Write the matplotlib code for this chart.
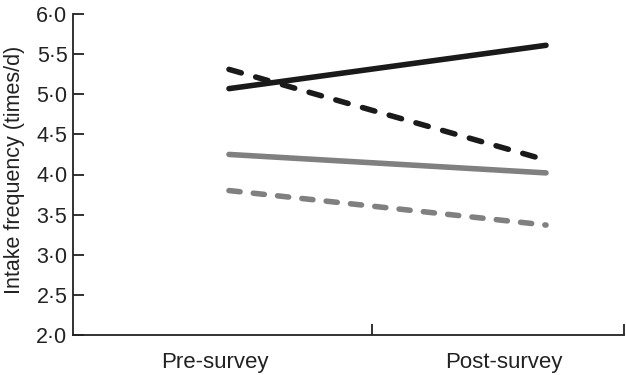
import matplotlib
matplotlib.use("Agg")
import matplotlib.pyplot as plt

plt.rcParams["font.family"] = ["Liberation Sans", "DejaVu Sans"]

# two survey points, four series
stages = ["Pre-survey", "Post-survey"]
black_solid = [5.07, 5.61]
black_dashed = [5.31, 4.18]
grey_solid = [4.25, 4.02]
grey_dashed = [3.80, 3.37]

yticks = [2.0, 2.5, 3.0, 3.5, 4.0, 4.5, 5.0, 5.5, 6.0]
ytick_labels = [f"{v:.1f}".replace(".", "\u00b7") for v in yticks]

fig = plt.figure(figsize=(6.26, 3.75), dpi=100)
ax = fig.add_axes([73 / 626, 1 - 335 / 375, 551 / 626, 321 / 375])

xs = [0, 1]
lw = 4.0
ax.plot(xs, black_solid, color="#1a1a1a", lw=lw, solid_capstyle="round")
ax.plot(xs, black_dashed, color="#1a1a1a", lw=lw, ls=(0, (2.3, 2.7)),
        dash_capstyle="round")
ax.plot(xs, grey_solid, color="#808080", lw=lw, solid_capstyle="round")
ax.plot(xs, grey_dashed, color="#808080", lw=lw, ls=(0, (2.0, 2.4)),
        dash_capstyle="round")

ax.set_xlim(-0.492, 1.246)
ax.set_ylim(2.0, 6.0)

ax.spines["top"].set_visible(False)
ax.spines["right"].set_visible(False)
for s in ["left", "bottom"]:
    ax.spines[s].set_linewidth(1.3)
    ax.spines[s].set_color("#222222")

ax.set_yticks(yticks)
ax.set_yticklabels(ytick_labels, fontsize=15.5)
ax.tick_params(axis="y", direction="in", length=8, width=1.3, pad=4,
               color="#222222", labelcolor="#222222")

# tick marks between groups, labels centred in each group
ax.set_xticks([0.451, 1.246])
ax.set_xticklabels(["", ""])
ax.tick_params(axis="x", which="major", direction="in", length=8, width=1.3,
               color="#222222")
ax.set_xticks([-0.044, 0.868], minor=True)
ax.set_xticklabels(stages, minor=True, fontsize=16, color="#222222")
ax.tick_params(axis="x", which="minor", length=0, pad=12)

ax.set_ylabel("Intake frequency (times/d)", fontsize=15.5, color="#222222")
ax.yaxis.set_label_coords(-0.087, 0.514)

fig.savefig("out.png", dpi=100)
